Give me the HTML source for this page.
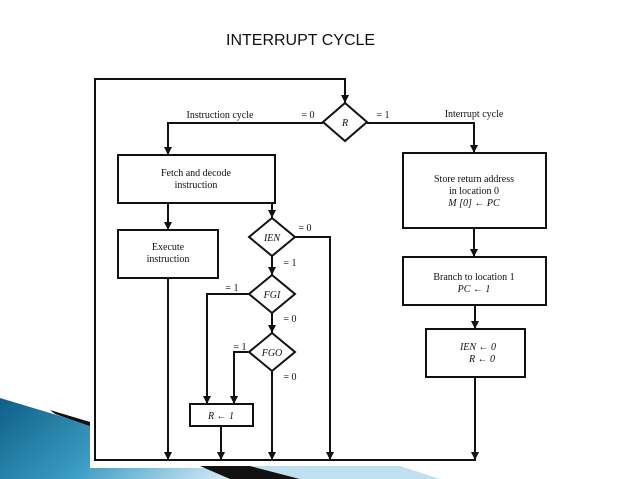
<!DOCTYPE html>
<html><head><style>
html,body{margin:0;padding:0;background:#fff;width:638px;height:479px;overflow:hidden}
</style></head><body>
<svg width="638" height="479" viewBox="0 0 638 479" xmlns="http://www.w3.org/2000/svg">
<defs>
<linearGradient id="g" x1="0" y1="0" x2="1" y2="0.3">
<stop offset="0" stop-color="#0e5f86"/><stop offset="0.5" stop-color="#3b9cc4"/><stop offset="1" stop-color="#cfe9f4"/>
</linearGradient>
<marker id="a" markerWidth="8" markerHeight="8" refX="8" refY="4" orient="auto" markerUnits="userSpaceOnUse">
<path d="M0,0 L8,4 L0,8 z" fill="#111"/></marker>
</defs>
<polygon points="0,398 90,425 90,468 210,468 280,479 0,479" fill="url(#g)"/>
<polygon points="200,466 250,466 300,479 230,479" fill="#111"/>
<polygon points="250,466 400,466 440,479 300,479" fill="#bfe0ee"/>
<polygon points="50,410 90,422 90,426 55,414" fill="#111"/>
<text x="226" y="45" font-family="Liberation Sans Narrow, Liberation Sans, sans-serif" font-size="16" fill="#111">INTERRUPT CYCLE</text>
<g stroke="#111" stroke-width="2" fill="none">
<polyline points="95,460 95,79 345,79 345,103" marker-end="url(#a)"/>
<polygon points="345,103 367,122 345,141 323,122" fill="#fff"/>
<polyline points="323,123 168,123 168,155" marker-end="url(#a)"/>
<polyline points="367,123 474,123 474,153" marker-end="url(#a)"/>
<rect x="118" y="155" width="157" height="48"/>
<rect x="403" y="153" width="143" height="75"/>
<line x1="474" y1="228" x2="474" y2="257" marker-end="url(#a)"/>
<rect x="403" y="257" width="143" height="48"/>
<line x1="475" y1="305" x2="475" y2="329" marker-end="url(#a)"/>
<rect x="426" y="329" width="99" height="48"/>
<line x1="475" y1="377" x2="475" y2="460" marker-end="url(#a)"/>
<line x1="168" y1="203" x2="168" y2="230" marker-end="url(#a)"/>
<rect x="118" y="230" width="100" height="48"/>
<line x1="168" y1="278" x2="168" y2="460" marker-end="url(#a)"/>
<line x1="272" y1="203" x2="272" y2="218" marker-end="url(#a)"/>
<polygon points="272,218 295,237 272,256 249,237" fill="#fff"/>
<polyline points="295,237 330,237 330,460" marker-end="url(#a)"/>
<line x1="272" y1="256" x2="272" y2="275" marker-end="url(#a)"/>
<polygon points="272,275 295,294 272,313 249,294" fill="#fff"/>
<polyline points="249,294 207,294 207,404" marker-end="url(#a)"/>
<line x1="272" y1="313" x2="272" y2="333" marker-end="url(#a)"/>
<polygon points="272,333 295,352 272,371 249,352" fill="#fff"/>
<polyline points="249,352 234,352 234,404" marker-end="url(#a)"/>
<line x1="272" y1="371" x2="272" y2="460" marker-end="url(#a)"/>
<rect x="190" y="404" width="63" height="22"/>
<line x1="221" y1="426" x2="221" y2="460" marker-end="url(#a)"/>
<line x1="94" y1="460" x2="476" y2="460"/>
</g>
<g font-family="Liberation Serif, serif" font-size="10" fill="#111" text-anchor="middle">
<text x="220" y="118">Instruction cycle</text>
<text x="308" y="118">= 0</text>
<text x="383" y="118">= 1</text>
<text x="474" y="117">Interrupt cycle</text>
<text x="345" y="126" font-style="italic">R</text>
<text x="196" y="176">Fetch and decode</text>
<text x="196" y="188">instruction</text>
<text x="474" y="182">Store return address</text>
<text x="474" y="194">in location 0</text>
<text x="474" y="206" font-style="italic">M [0] ← PC</text>
<text x="168" y="250">Execute</text>
<text x="168" y="262">instruction</text>
<text x="272" y="241" font-style="italic">IEN</text>
<text x="305" y="231">= 0</text>
<text x="290" y="266">= 1</text>
<text x="272" y="298" font-style="italic">FGI</text>
<text x="232" y="291">= 1</text>
<text x="290" y="322">= 0</text>
<text x="272" y="356" font-style="italic">FGO</text>
<text x="240" y="350">= 1</text>
<text x="290" y="380">= 0</text>
<text x="221" y="419" font-style="italic">R ← 1</text>
<text x="474" y="280">Branch to location 1</text>
<text x="474" y="292" font-style="italic">PC ← 1</text>
<text x="478" y="350" font-style="italic">IEN ← 0</text>
<text x="482" y="362" font-style="italic">R ← 0</text>
</g>
</svg>
</body></html>
